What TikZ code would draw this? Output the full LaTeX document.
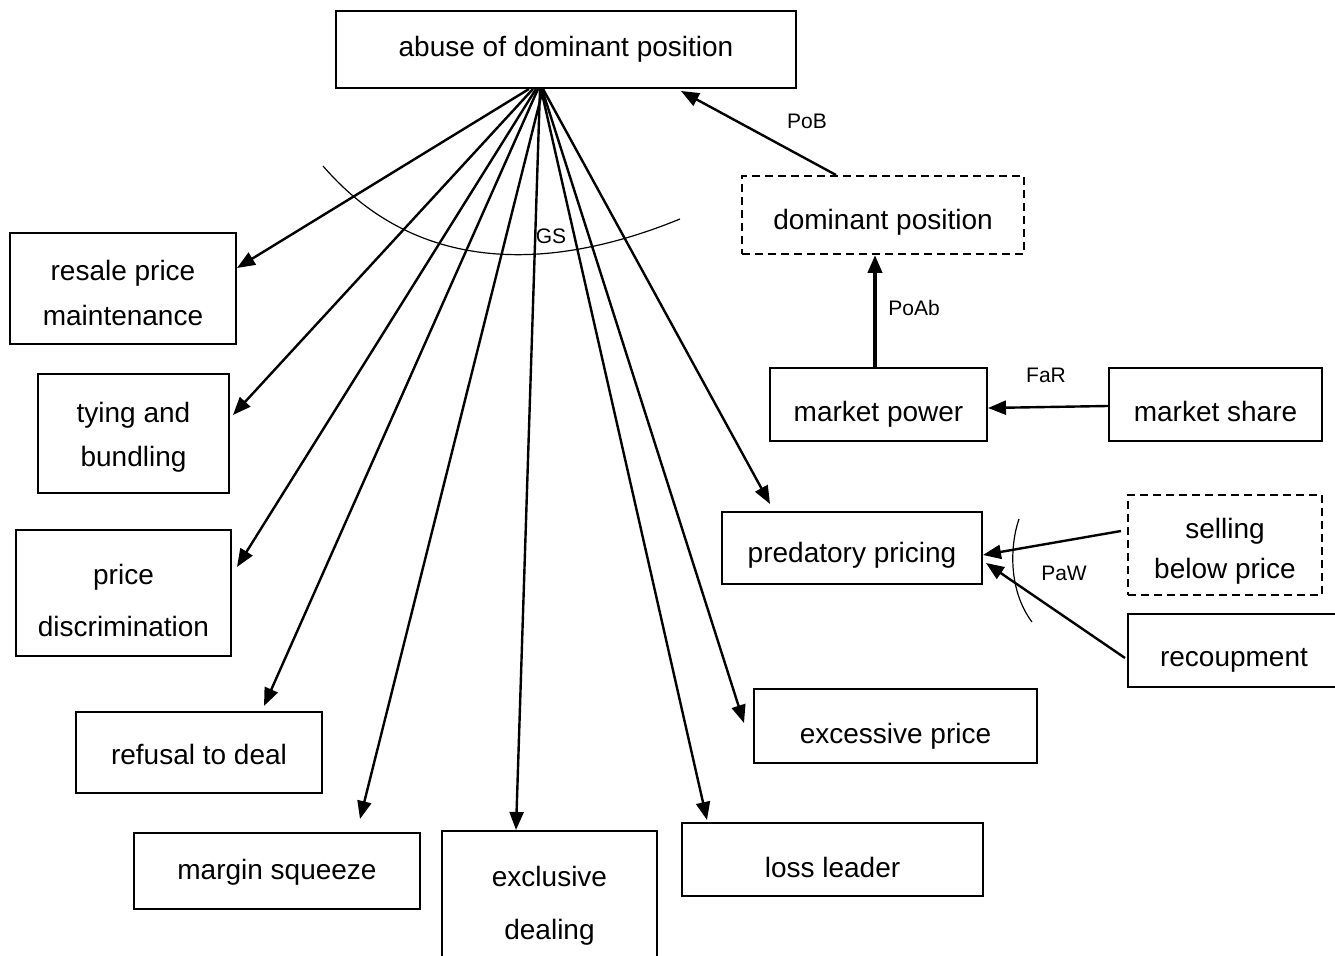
\documentclass[tikz,border=0pt]{standalone}
\usepackage{fontspec}
\setmainfont{Liberation Sans}
\usetikzlibrary{arrows.meta}
% lower a line of text inside its box without changing the box's centring
\newcommand{\lowered}[2]{\raisebox{-#1}[\height][\depth]{#2}}
\begin{document}
\begin{tikzpicture}[x=0.5pt,y=-0.5pt,
  box/.style={draw,line width=1pt,inner sep=0pt,align=center,
    font=\fontsize{14}{22}\selectfont},
  dbox/.style={box,dash pattern=on 4pt off 2.5pt},
  arr/.style={line width=1.2pt,-{Triangle[length=9pt,width=7pt]}},
  thickarr/.style={line width=2pt,-{Triangle[length=9pt,width=7pt]}},
  lbl/.style={font=\fontsize{10.5}{12}\selectfont,inner sep=0pt}]
\useasboundingbox (0,0) rectangle (1335,956);

% central concept
\node[box,minimum width=230pt,minimum height=38.5pt] (abuse) at (566,49.5) {abuse of dominant position};

% right-hand chain
\node[dbox,minimum width=141pt,minimum height=39pt] (dom) at (883,215) {\lowered{3.5pt}{dominant position}};
\node[box,minimum width=108.5pt,minimum height=36.5pt] (power) at (878.5,404.5) {\lowered{5pt}{market power}};
\node[box,minimum width=106.5pt,minimum height=36.5pt] (share) at (1215.5,404.5) {\lowered{3.5pt}{market share}};
\node[box,minimum width=130pt,minimum height=36pt] (pred) at (852,548) {\lowered{3.5pt}{predatory pricing}};
\node[dbox,minimum width=97pt,minimum height=50pt,font=\fontsize{14}{20}\selectfont] (sell) at (1225,545) {\lowered{3pt}{selling}\\\lowered{3pt}{below price}};
\node[box,minimum width=106pt,minimum height=36.5pt] (recoup) at (1234,650.5) {\lowered{5pt}{recoupment}};

% forms of abuse
\node[box,minimum width=113pt,minimum height=55.5pt,font=\fontsize{14}{22.5}\selectfont] (resale) at (123,288.5) {\lowered{2.25pt}{resale price}\\\lowered{2.25pt}{maintenance}};
\node[box,minimum width=95.5pt,minimum height=59.5pt] (tying) at (133.5,433.5) {\lowered{1.75pt}{tying and}\\\lowered{1.75pt}{bundling}};
\node[box,minimum width=107.5pt,minimum height=63pt,font=\fontsize{14}{26}\selectfont] (pdisc) at (123.5,593) {\lowered{3.5pt}{price}\\\lowered{3.5pt}{discrimination}};
\node[box,minimum width=123pt,minimum height=40.5pt] (refusal) at (199,752.5) {\lowered{1pt}{refusal to deal}};
\node[box,minimum width=143pt,minimum height=38pt] (margin) at (277,871) {\lowered{0.5pt}{margin squeeze}};
\node[box,minimum width=107.5pt,minimum height=71.5pt,font=\fontsize{14}{26.5}\selectfont] (excl) at (549.5,902.5) {\lowered{1.5pt}{exclusive}\\\lowered{1.5pt}{dealing}};
\node[box,minimum width=150.5pt,minimum height=36.5pt] (loss) at (832.5,859.5) {\lowered{4pt}{loss leader}};
\node[box,minimum width=141.5pt,minimum height=37pt] (excess) at (895.5,726) {\lowered{5pt}{excessive price}};

% fan of arrows from the central concept
\draw[arr] ([xshift=-18.5pt]abuse.south) -- ([yshift=10.25pt]resale.east);
\draw[arr] ([xshift=-16.5pt]abuse.south) -- ([xshift=1.5pt,yshift=9.25pt]tying.east);
\draw[arr] ([xshift=-15pt]abuse.south) -- ([xshift=2.5pt,yshift=13pt]pdisc.east);
\draw[arr] ([xshift=-14pt]abuse.south) -- ([xshift=32.5pt,yshift=2.5pt]refusal.north);
\draw[arr] ([xshift=-11.5pt]abuse.south) -- ([xshift=41.5pt,yshift=6.5pt]margin.north);
\draw[arr] ([xshift=-13pt]abuse.south) -- ([xshift=-16.75pt]excl.north);
\draw[arr] ([xshift=-12.5pt]abuse.south) -- ([xshift=-62.75pt,yshift=1pt]loss.north);
\draw[arr] ([xshift=-12pt]abuse.south) -- ([xshift=-4.5pt,yshift=1.5pt]excess.west);
\draw[arr] ([xshift=-11.5pt]abuse.south) -- ([xshift=-41pt,yshift=3.5pt]pred.north);

% GS arc across the fan
\draw[line width=0.6pt] (323,166) .. controls (430,290) and (580,260) .. (680,219);
\node[lbl] (gs) at (551,236) {GS};

% right-hand relations
\draw[arr] ([xshift=-23.5pt]dom.north) -- ([xshift=57.5pt,yshift=-1pt]abuse.south);
\node[lbl] (pob) at (807,121) {PoB};
\draw[thickarr] ([xshift=-1.75pt]power.north) -- ([xshift=-4pt]dom.south);
\node[lbl] (poab) at (914,308) {PoAb};
\draw[arr] ([yshift=-0.75pt]share.west) -- ([yshift=-1.75pt]power.east);
\node[lbl] (far) at (1046,375) {FaR};
\draw[arr] ([xshift=-3pt,yshift=7pt]sell.west) -- ([yshift=-3.5pt]pred.east);
\draw[arr] ([xshift=-1pt,yshift=-3.75pt]recoup.west) -- ([xshift=1.5pt,yshift=-7.5pt]pred.east);

% PaW arc
\draw[line width=0.6pt] (1019,519) .. controls (1010,545) and (1008,590) .. (1032,622);
\node[lbl] (paw) at (1064,573) {PaW};
\end{tikzpicture}
\end{document}
